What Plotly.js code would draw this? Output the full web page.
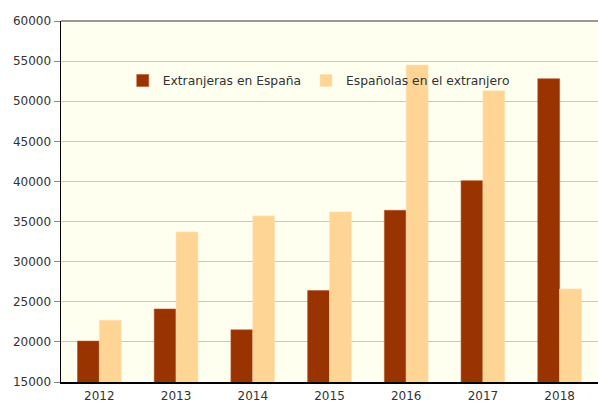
<!DOCTYPE html>
<html>
<head>
<meta charset="utf-8">
<script src="https://cdn.plot.ly/plotly-3.0.1.min.js"></script>
<style>html,body{margin:0;padding:0;background:#fff;}#chart{width:598px;height:403px;}</style>
</head>
<body>
<div id="chart"></div>
<script>
var years = ['2012', '2013', '2014', '2015', '2016', '2017', '2018'];
var extranjerasEnEspana = [20100, 24100, 21500, 26400, 36400, 40100, 52800];
var espanolasEnExtranjero = [22700, 33700, 35700, 36200, 54500, 51300, 26600];
var seriesNames = ['Extranjeras en España', 'Españolas en el extranjero'];
var yTicks = [15000, 20000, 25000, 30000, 35000, 40000, 45000, 50000, 55000, 60000];

var font = {family: 'DejaVu Sans, Verdana, sans-serif', size: 12, color: '#333333'};

var traces = [
  {type: 'bar', x: years, y: extranjerasEnEspana, name: seriesNames[0],
   marker: {color: '#993300', line: {color: '#b8552a', width: 0.6}}, hoverinfo: 'x+y'},
  {type: 'bar', x: years, y: espanolasEnExtranjero, name: seriesNames[1],
   marker: {color: '#FFD596', line: {color: '#ffe0b0', width: 0.6}}, hoverinfo: 'x+y'}
];

var layout = {
  width: 598, height: 403,
  margin: {l: 61, r: 0, t: 21, b: 21, pad: 0},
  paper_bgcolor: '#ffffff',
  plot_bgcolor: '#FFFFF0',
  font: font,
  barmode: 'group',
  bargap: 0.43,
  bargroupgap: 0,
  showlegend: true,
  legend: {orientation: 'h', x: 0.115, y: 0.835, xanchor: 'left', yanchor: 'middle',
           bgcolor: 'rgba(0,0,0,0)', itemwidth: 30,
           font: {family: font.family, size: 12.3, color: '#333333'},
           traceorder: 'normal'},
  xaxis: {type: 'category', showline: true, linecolor: '#000000', linewidth: 1.5,
          ticks: '', showgrid: false, tickfont: font, automargin: false, ticklabelstandoff: 2},
  yaxis: {range: [15000, 60000], tickvals: yTicks, ticktext: yTicks.map(String),
          showline: true, linecolor: '#000000', linewidth: 1.5,
          ticks: 'outside', ticklen: 6, tickcolor: '#888888', tickwidth: 1,
          showgrid: true, gridcolor: '#c8c8c0', gridwidth: 1.2, zeroline: false,
          tickfont: font, automargin: false},
  shapes: [{type: 'line', xref: 'paper', yref: 'paper', x0: 0, x1: 1, y0: 1, y1: 1,
            line: {color: '#777777', width: 1.5}}]
};

Plotly.newPlot('chart', traces, layout, {displayModeBar: false, staticPlot: true});
</script>
</body>
</html>
